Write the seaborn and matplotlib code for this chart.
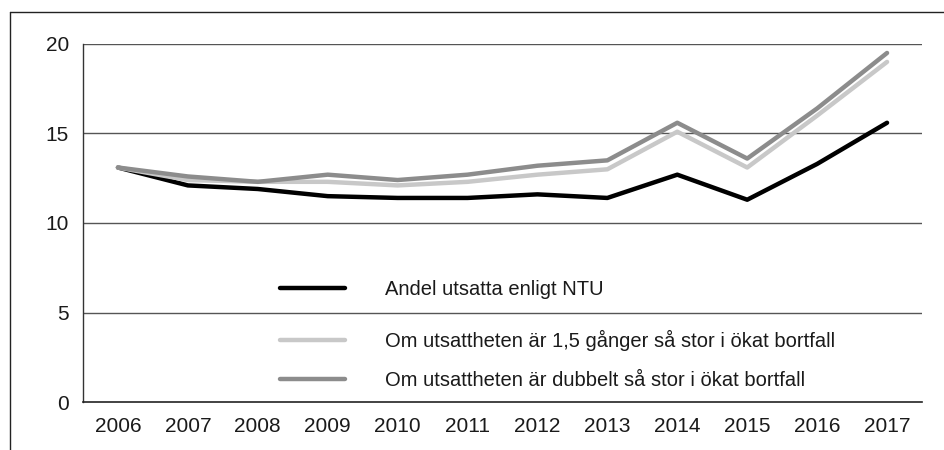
import pandas as pd
import numpy as np
import matplotlib.pyplot as plt
import seaborn as sns
from matplotlib.lines import Line2D

years = ["2006", "2007", "2008", "2009", "2010", "2011",
         "2012", "2013", "2014", "2015", "2016", "2017"]
ntu = [13.1, 12.1, 11.9, 11.5, 11.4, 11.4, 11.6, 11.4, 12.7, 11.3, 13.3, 15.6]
half_more = [13.1, 12.4, 12.3, 12.3, 12.1, 12.3, 12.7, 13.0, 15.1, 13.1, 16.0, 19.0]
double = [13.1, 12.6, 12.3, 12.7, 12.4, 12.7, 13.2, 13.5, 15.6, 13.6, 16.4, 19.5]

names = ["Andel utsatta enligt NTU",
         "Om utsattheten är 1,5 gånger så stor i ökat bortfall",
         "Om utsattheten är dubbelt så stor i ökat bortfall"]
colors = ["#000000", "#c8c8c8", "#8c8c8c"]

df = pd.DataFrame({"year": years * 3,
                   "value": ntu + half_more + double,
                   "serie": [names[0]] * 12 + [names[1]] * 12 + [names[2]] * 12})

sns.set_style("white")
plt.rcParams['font.family'] = ['Liberation Sans', 'DejaVu Sans']

fig = plt.figure(figsize=(9.45, 4.5), dpi=100)
ax = fig.add_axes([83/945, 1-402/450, 839/945, 358/450])

# grid first so lines sit on top
for v in [5, 10, 15, 20]:
    ax.axhline(v, color="#555555", lw=1, zorder=0)

sns.lineplot(data=df, x="year", y="value", hue="serie", hue_order=names,
             palette=colors, lw=3.2, ax=ax, legend=False, zorder=3,
             solid_capstyle="round", solid_joinstyle="round")

ax.set_xlim(-0.5, 11.5)
ax.set_ylim(0, 20)
ax.set_yticks([0, 5, 10, 15, 20])
ax.set_xlabel("")
ax.set_ylabel("")
ax.tick_params(axis="both", length=0, labelsize=15, colors="#1a1a1a")
ax.tick_params(axis="y", pad=10)
ax.tick_params(axis="x", pad=11)
for s in ["top", "right"]:
    ax.spines[s].set_visible(False)
ax.spines["left"].set_color("#333333")
ax.spines["bottom"].set_color("#222222")
ax.spines["left"].set_linewidth(1)
ax.spines["bottom"].set_linewidth(1.2)

h = [Line2D([0], [0], color=c, lw=3.2, solid_capstyle="round") for c in colors]
leg_kw = dict(loc="center left", frameon=False, fontsize=14.5, handlelength=3.2,
              handletextpad=2.0, borderpad=0, borderaxespad=0,
              labelcolor="#1a1a1a")
leg1 = ax.legend(h[:1], names[:1], bbox_to_anchor=(0.235, 0.313), **leg_kw)
ax.add_artist(leg1)
ax.legend(h[1:], names[1:], bbox_to_anchor=(0.235, 0.117), labelspacing=1.0, **leg_kw)

# outer frame
fig.add_artist(Line2D([10/945, 1], [1-12/450, 1-12/450], color="#222222", lw=1))
fig.add_artist(Line2D([10/945, 10/945], [0, 1-12/450], color="#222222", lw=1))

fig.savefig("out.png", dpi=100)
